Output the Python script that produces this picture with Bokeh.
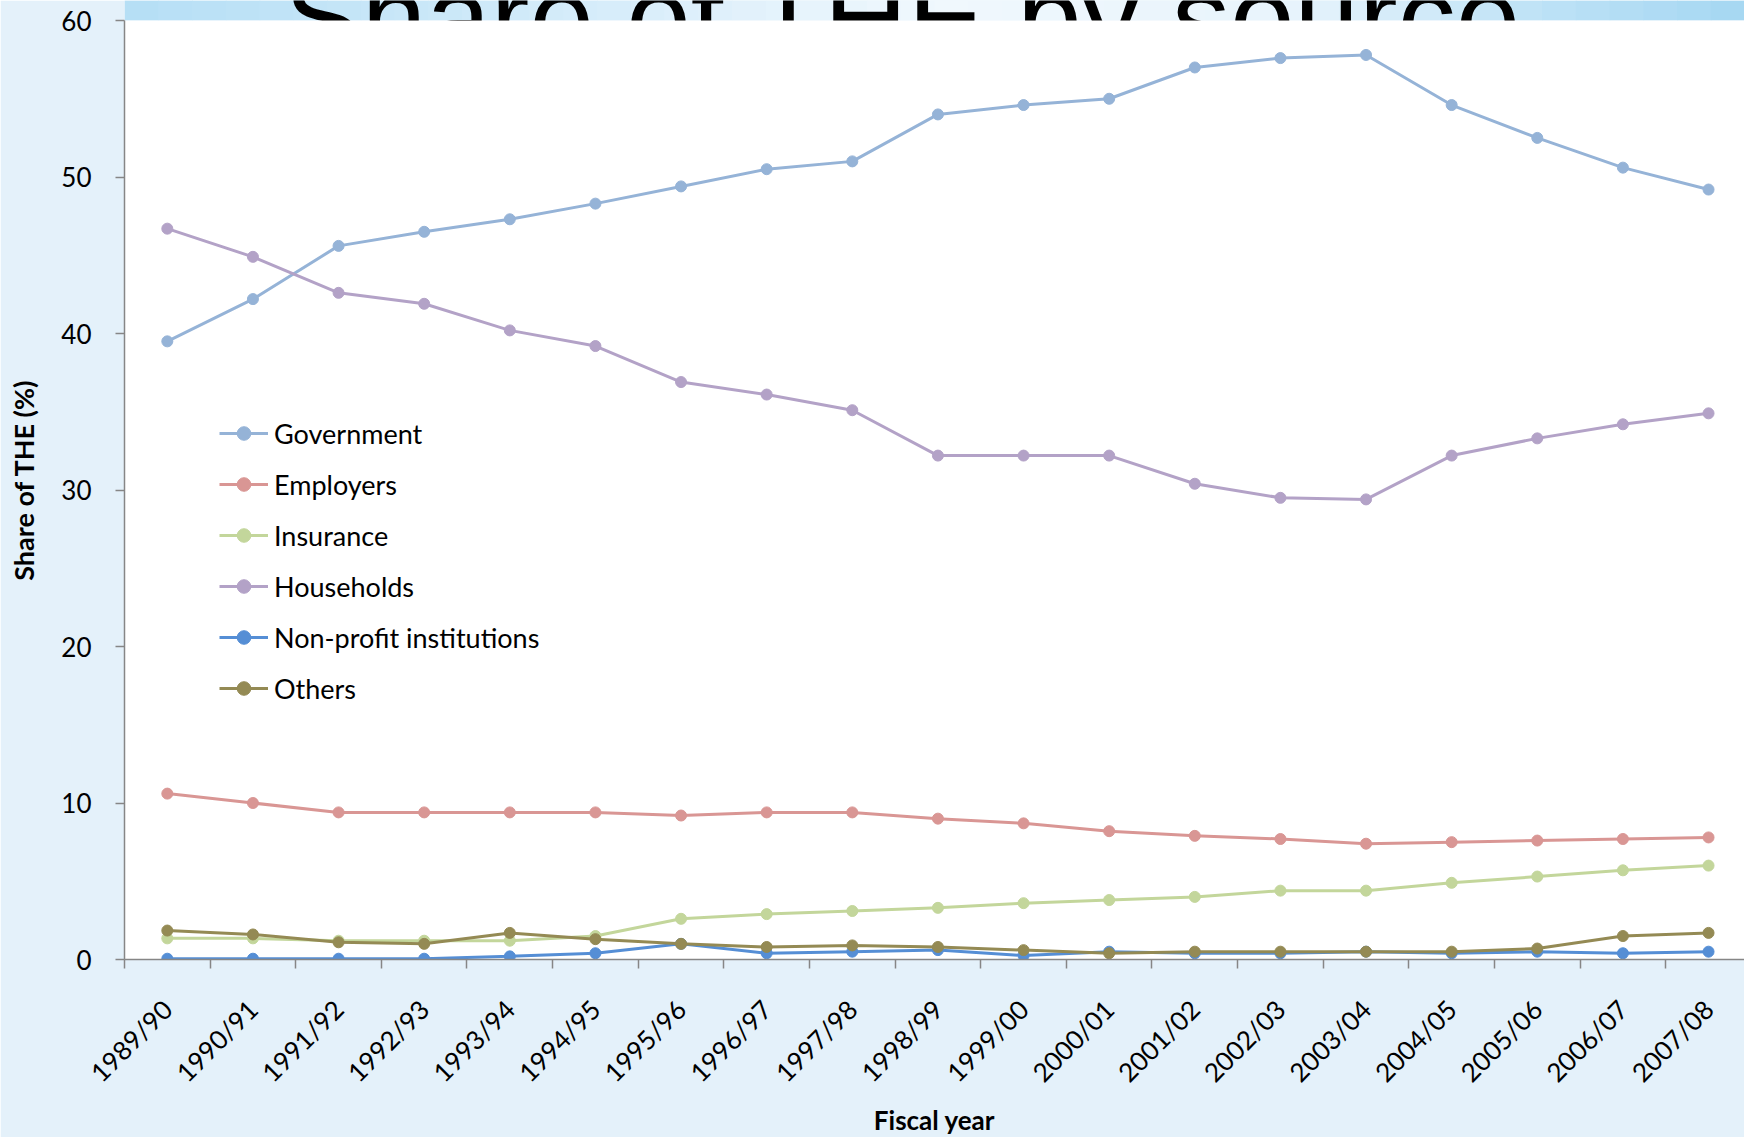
import math
from bokeh.plotting import figure
from bokeh.models import (Range1d, FixedTicker, Legend, LegendItem, Label,
                          BoxAnnotation, ColumnDataSource)
from bokeh.embed import file_html
from bokeh.resources import INLINE

years = ["1989/90", "1990/91", "1991/92", "1992/93", "1993/94", "1994/95",
         "1995/96", "1996/97", "1997/98", "1998/99", "1999/00", "2000/01",
         "2001/02", "2002/03", "2003/04", "2004/05", "2005/06", "2006/07",
         "2007/08"]

government = [39.5, 42.2, 45.6, 46.5, 47.3, 48.3, 49.4, 50.5, 51.0, 54.0,
              54.6, 55.0, 57.0, 57.6, 57.8, 54.6, 52.5, 50.6, 49.2]
employers = [10.6, 10.0, 9.4, 9.4, 9.4, 9.4, 9.2, 9.4, 9.4, 9.0,
             8.7, 8.2, 7.9, 7.7, 7.4, 7.5, 7.6, 7.7, 7.8]
insurance = [1.35, 1.35, 1.2, 1.2, 1.2, 1.5, 2.6, 2.9, 3.1, 3.3,
             3.6, 3.8, 4.0, 4.4, 4.4, 4.9, 5.3, 5.7, 6.0]
households = [46.7, 44.9, 42.6, 41.9, 40.2, 39.2, 36.9, 36.1, 35.1, 32.2,
              32.2, 32.2, 30.4, 29.5, 29.4, 32.2, 33.3, 34.2, 34.9]
non_profit = [0.05, 0.05, 0.05, 0.05, 0.2, 0.4, 1.0, 0.4, 0.5, 0.6,
              0.25, 0.5, 0.4, 0.4, 0.5, 0.4, 0.5, 0.4, 0.5]
others = [1.85, 1.6, 1.1, 1.0, 1.7, 1.3, 1.0, 0.8, 0.9, 0.8,
          0.6, 0.4, 0.5, 0.5, 0.5, 0.5, 0.7, 1.5, 1.7]

series_names = ["Government", "Employers", "Insurance", "Households",
                "Non-profit institutions", "Others"]
series_values = [government, employers, insurance, households, non_profit, others]
series_colors = ["#95B3D7", "#D99694", "#C3D69B", "#B3A2C7", "#558ED5", "#948A54"]

y_ticks = [0, 10, 20, 30, 40, 50, 60]
slide_title = "Share of THE by source"

xpos = list(range(len(years)))
data = {"x": xpos}
for i, vals in enumerate(series_values):
    data[f"s{i}"] = vals
source = ColumnDataSource(data)

BORDER = "#e4f1fa"
X0, X1 = -0.5, 18.42
Y_TOP = 61.28   # frame reaches the top of the slide; the chart area ends at 60

p = figure(frame_width=1620, frame_height=959, output_backend="svg",
           toolbar_location=None,
           x_range=Range1d(X0, X1), y_range=Range1d(0, Y_TOP),
           min_border_left=124, min_border_right=0, min_border_top=0,
           min_border_bottom=170)
p.border_fill_color = BORDER
p.background_fill_color = BORDER
p.outline_line_color = None
p.grid.grid_line_color = None

# decorative slide header band (light blue gradient) above the chart area
stops = [(X0, (181, 222, 245)), (5.0, (214, 236, 250)), (9.0, (240, 248, 253)),
         (13.0, (232, 244, 252)), (16.0, (190, 226, 246)), (X1, (165, 215, 242))]
n_slices = 48
step = (X1 - X0) / n_slices
for k in range(n_slices):
    xm = X0 + (k + 0.5) * step
    for (a, ca), (b, cb) in zip(stops[:-1], stops[1:]):
        if a <= xm <= b:
            t = (xm - a) / (b - a)
            c = tuple(int(round(ca[j] + (cb[j] - ca[j]) * t)) for j in range(3))
            break
    p.add_layout(BoxAnnotation(left=X0 + k * step, right=X0 + (k + 1) * step + 0.01,
                               bottom=60, fill_color="#%02x%02x%02x" % c,
                               fill_alpha=1.0, line_color=None, level="underlay"))

# Partially hidden slide title behind the chart area
title = Label(x=1.367, y=60.13, x_units="data", y_units="data",
              text=slide_title, text_font="Liberation Sans",
              text_font_size="116px", text_color="black",
              text_baseline="alphabetic", level="underlay")
p.add_layout(title)
cover = BoxAnnotation(bottom=0, top=60, fill_color="white", fill_alpha=1.0,
                      line_color=None, level="underlay")
p.add_layout(cover)

axis_color = "#868686"
font = "Lato"

# X axis
xa = p.xaxis[0]
xa.ticker = FixedTicker(ticks=xpos, minor_ticks=[i - 0.5 for i in range(len(years) + 1)])
xa.major_label_overrides = {i: y for i, y in enumerate(years)}
xa.major_tick_line_color = None
xa.major_tick_out = 0
xa.major_tick_in = 0
xa.minor_tick_out = 9
xa.minor_tick_in = 0
xa.minor_tick_line_color = axis_color
xa.minor_tick_line_width = 1.5
xa.axis_line_color = axis_color
xa.axis_line_width = 1.5
xa.major_label_orientation = math.pi / 4
xa.major_label_standoff = 36
xa.major_label_text_font = font
xa.major_label_text_font_size = "26px"
xa.major_label_text_color = "black"
xa.axis_label = "Fiscal year"
xa.axis_label_text_font = font
xa.axis_label_text_font_size = "26px"
xa.axis_label_text_font_style = "bold"
xa.axis_label_text_color = "black"
xa.axis_label_standoff = 2

# Y axis
ya = p.yaxis[0]
ya.ticker = FixedTicker(ticks=y_ticks)
ya.bounds = (0, 60)
ya.major_tick_out = 9
ya.major_tick_in = 0
ya.major_tick_line_color = axis_color
ya.major_tick_line_width = 1.5
ya.minor_tick_line_color = None
ya.axis_line_color = axis_color
ya.axis_line_width = 1.5
ya.major_label_standoff = 24
ya.major_label_text_font = font
ya.major_label_text_font_size = "26px"
ya.major_label_text_color = "black"
ya.axis_label = "Share of THE (%)"
ya.axis_label_text_font = font
ya.axis_label_text_font_size = "27px"
ya.axis_label_text_font_style = "bold"
ya.axis_label_text_color = "black"
ya.axis_label_standoff = 18

items = []
for i, (name, color) in enumerate(zip(series_names, series_colors)):
    r_line = p.line("x", f"s{i}", source=source, line_color=color, line_width=3)
    r_pts = p.scatter("x", f"s{i}", source=source, size=11, fill_color=color,
                      line_color=color)
    items.append(LegendItem(label=name, renderers=[r_line, r_pts]))

legend = Legend(items=items, location=(95, 254), orientation="vertical",
                label_text_font=font, label_text_font_size="27px",
                label_text_color="black", glyph_width=49, glyph_height=34,
                label_height=34, label_standoff=6, spacing=17, padding=0,
                margin=0, border_line_color=None, background_fill_alpha=0)
p.add_layout(legend)

open("out.html", "w").write(file_html(p, INLINE))
